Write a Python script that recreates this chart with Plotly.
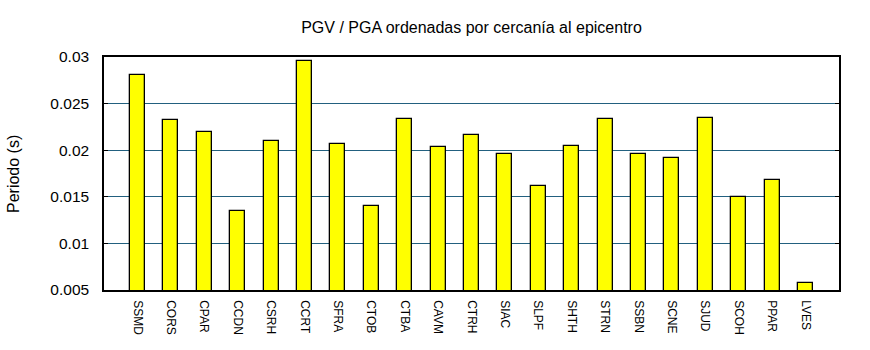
import plotly.graph_objects as go

stations = ["SSMD", "CORS", "CPAR", "CCDN", "CSRH", "CCRT", "SFRA", "CTOB", "CTBA", "CAVM",
            "CTRH", "SIAC", "SLPF", "SHTH", "STRN", "SSBN", "SCNE", "SJUD", "SCOH", "PPAR", "LVES"]
periodo = [0.0281, 0.0232, 0.0219, 0.01348, 0.0210, 0.0296, 0.0207, 0.01406, 0.0234, 0.0203,
           0.0216, 0.0196, 0.0162, 0.0204, 0.0234, 0.0196, 0.0192, 0.0235, 0.0150, 0.01685, 0.0057]
y_ticks = [0.005, 0.01, 0.015, 0.02, 0.025, 0.03]
y_tick_text = ["0.005", "0.01", "0.015", "0.02", "0.025", "0.03"]

title_text = "PGV / PGA ordenadas por cercanía al epicentro"
y_title = "Periodo (s)"

x_idx = list(range(len(stations)))

fig = go.Figure()
fig.add_trace(go.Bar(
    x=x_idx, y=periodo, width=0.45,
    base=0.005 * 0 + 0,
    marker=dict(color="#ffff00", line=dict(color="black", width=1.3)),
    hoverinfo="x+y",
))

grid_col = "#22607f"
fig.update_layout(
    width=870, height=350,
    margin=dict(l=104, r=31, t=57, b=60),
    paper_bgcolor="white", plot_bgcolor="white",
    font=dict(family="Liberation Sans, Arial, sans-serif", color="black"),
    showlegend=False,
    title=dict(text=title_text, x=0.5, xref="paper", xanchor="center",
               y=1 - 27.5 / 350, yref="container", yanchor="middle",
               font=dict(size=16, color="black")),
    bargap=0,
)
fig.update_xaxes(
    range=[-1, 21], tickmode="array", tickvals=x_idx, ticktext=stations,
    tickangle=90, ticks="", showgrid=False, zeroline=False,
    showline=True, linecolor="black", linewidth=1.5, mirror=True,
    tickfont=dict(family="Liberation Sans Narrow, Arial Narrow, sans-serif", size=12, color="black"),
    ticklabelstandoff=6,
)
fig.update_yaxes(
    range=[0.005, 0.03], tickmode="array", tickvals=y_ticks, ticktext=y_tick_text,
    ticks="inside", ticklen=4, tickcolor="black", tickwidth=1,
    showgrid=True, gridcolor=grid_col, gridwidth=1, zeroline=False,
    showline=True, linecolor="black", linewidth=1.5, mirror="ticks",
    tickfont=dict(size=15.5, color="black"),
    ticklabelstandoff=10,
)
fig.add_annotation(
    text=y_title, xref="paper", yref="paper", x=-104 / 735 + 13.5 / 735, y=0.5,
    xanchor="center", yanchor="middle", textangle=-90, showarrow=False,
    font=dict(size=16, color="black"),
)

fig.write_html("out.html")
